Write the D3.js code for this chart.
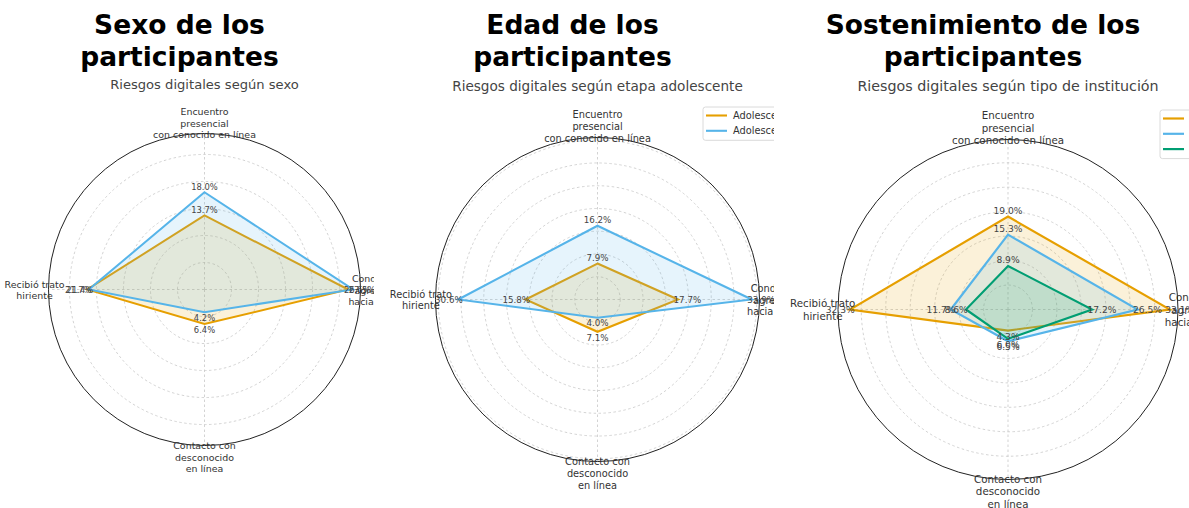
<!DOCTYPE html>
<html>
<head>
<meta charset="utf-8">
<script src="https://cdn.jsdelivr.net/npm/d3@7"></script>
<style>
  body { margin: 0; background: #fff; }
  text { font-family: "DejaVu Sans", sans-serif; }
</style>
</head>
<body>
<svg id="chart" width="1189" height="508"></svg>
<script>
// Ejes del radar, en sentido horario desde arriba
const categorias = [
  "Encuentro\npresencial\ncon conocido en línea",
  "Conducta\nagresiva\nhacia otros",
  "Contacto con\ndesconocido\nen línea",
  "Recibió trato\nhiriente"
];

// Panel 1: sexo
const sexoNombres = ["Femenino", "Masculino"];
const sexoFemenino = [13.7, 26.6, 6.4, 21.7];
const sexoMasculino = [18.0, 27.5, 4.2, 21.4];

// Panel 2: etapa adolescente
const edadNombres = ["Adolescencia temprana", "Adolescencia tardía"];
const edadTemprana = [7.9, 17.7, 7.1, 15.8];
const edadTardia = [16.2, 33.9, 4.0, 30.6];

// Panel 3: tipo de institución
const sostNombres = ["Municipal", "Particular subvencionado", "Particular pagado"];
const sostMunicipal = [19.0, 33.1, 4.3, 32.3];
const sostSubvencionado = [15.3, 26.5, 6.5, 11.7];
const sostPagado = [8.9, 17.2, 6.0, 8.6];

const titulos = [["Sexo de los", "participantes"], ["Edad de los", "participantes"], ["Sostenimiento de los", "participantes"]];
const subtitulos = ["Riesgos digitales según sexo", "Riesgos digitales según etapa adolescente", "Riesgos digitales según tipo de institución"];

const colores = ["#E69F00", "#56B4E9", "#009E73"];

/*****
Layout of the three panels (each one is clipped like a cropped image)
*****/
const paneles = [
  {cx: 204.5, cy: 289.5, R: 156, clip: [0, 374], nombres: sexoNombres, series: [sexoFemenino, sexoMasculino], legend: null},
  {cx: 597.5, cy: 299.5, R: 162, clip: [390, 774], nombres: edadNombres, series: [edadTemprana, edadTardia], legend: [703, 107]},
  {cx: 1008, cy: 309.5, R: 170, clip: [790, 1189], nombres: sostNombres, series: [sostMunicipal, sostSubvencionado, sostPagado], legend: [1160, 110]}
];

const svg = d3.select("#chart");
const n = categorias.length;
const angle = i => i * 2 * Math.PI / n;

paneles.forEach((p, k) => {
  const s = p.R / 156;  // scale of this panel
  const clipId = "clip" + k;
  svg.append("clipPath").attr("id", clipId)
    .append("rect").attr("x", p.clip[0]).attr("y", 0)
    .attr("width", p.clip[1] - p.clip[0]).attr("height", 508);

  const g = svg.append("g").attr("clip-path", `url(#${clipId})`);

  // title
  const t = g.append("text").attr("text-anchor", "middle")
    .attr("font-size", 26.5).attr("font-weight", "bold").attr("fill", "#000");
  titulos[k].forEach((line, i) => {
    t.append("tspan").attr("x", p.cx - 25).attr("y", 33.5 + i * 32).text(line);
  });

  // subtitle
  g.append("text").attr("x", p.cx).attr("y", p.cy - p.R - 49.5 * s)
    .attr("text-anchor", "middle").attr("dominant-baseline", "central")
    .attr("font-size", 13.1 * s).attr("fill", "#444")
    .text(subtitulos[k]);

  const maxVal = d3.max(p.series.flat());
  const r = d3.scaleLinear().domain([0, maxVal * 1.05]).range([0, p.R]);

  const plot = g.append("g").attr("transform", `translate(${p.cx},${p.cy})`);

  // grid rings
  plot.selectAll(".ring").data(d3.range(5, r.domain()[1], 5)).enter()
    .append("circle").attr("r", d => r(d))
    .attr("fill", "none").attr("stroke", "#c8c8c8")
    .attr("stroke-width", 0.8).attr("stroke-dasharray", "2.5,2.5");

  // spokes
  plot.selectAll(".spoke").data(categorias).enter()
    .append("line")
    .attr("x1", 0).attr("y1", 0)
    .attr("x2", (d, i) => p.R * Math.sin(angle(i)))
    .attr("y2", (d, i) => -p.R * Math.cos(angle(i)))
    .attr("stroke", "#c8c8c8").attr("stroke-width", 0.8).attr("stroke-dasharray", "2.5,2.5");

  // outer circle
  plot.append("circle").attr("r", p.R).attr("fill", "none")
    .attr("stroke", "#222").attr("stroke-width", 1);

  const radar = d3.lineRadial()
    .angle((d, i) => angle(i))
    .radius(d => r(d))
    .curve(d3.curveLinearClosed);

  p.series.forEach((vals, j) => {
    plot.append("path").attr("d", radar(vals))
      .attr("fill", colores[j]).attr("fill-opacity", 0.15)
      .attr("stroke", colores[j]).attr("stroke-width", 2 * s)
      .attr("stroke-linejoin", "miter");
  });

  // value labels
  p.series.forEach((vals, j) => {
    vals.forEach((v, i) => {
      const a = angle(i);
      const off = (5.5 + 3.5 * Math.abs(Math.sin(a))) * s;
      plot.append("text")
        .attr("x", (r(v) + off) * Math.sin(a))
        .attr("y", -(r(v) + off) * Math.cos(a))
        .attr("text-anchor", "middle").attr("dominant-baseline", "central")
        .attr("font-size", 8.4 * s).attr("fill", "#444")
        .text(v.toFixed(1) + "%");
    });
  });

  // category labels
  categorias.forEach((c, i) => {
    const a = angle(i);
    const lines = c.split("\n");
    const rr = p.R + (11 + 3 * Math.abs(Math.sin(a))) * s;
    const fs = 9.45 * s, lh = fs * 1.2;
    const x = rr * Math.sin(a), y = -rr * Math.cos(a);
    const txt = plot.append("text").attr("text-anchor", "middle")
      .attr("dominant-baseline", "central")
      .attr("font-size", fs).attr("fill", "#333");
    lines.forEach((l, m) => {
      txt.append("tspan").attr("x", x)
        .attr("y", y + (m - (lines.length - 1) / 2) * lh)
        .text(l);
    });
  });

  // legend
  if (p.legend) {
    const [lx, ly] = p.legend;
    const rowH = 15.3;
    const lg = g.append("g");
    lg.append("rect").attr("x", lx).attr("y", ly)
      .attr("width", 170).attr("height", 8.5 + rowH * (p.nombres.length - 1) + 9.5)
      .attr("rx", 2.5).attr("fill", "#fff").attr("fill-opacity", 0.8)
      .attr("stroke", "#d0d0d0").attr("stroke-width", 0.8);
    p.nombres.forEach((nm, j) => {
      const y = ly + 8.5 + rowH * j;
      lg.append("line").attr("x1", lx + 3).attr("x2", lx + 24)
        .attr("y1", y).attr("y2", y)
        .attr("stroke", colores[j]).attr("stroke-width", 2 * s);
      lg.append("text").attr("x", lx + 30).attr("y", y)
        .attr("dominant-baseline", "central")
        .attr("font-size", 9.45 * s).attr("fill", "#333").text(nm);
    });
  }
});
</script>
</body>
</html>
